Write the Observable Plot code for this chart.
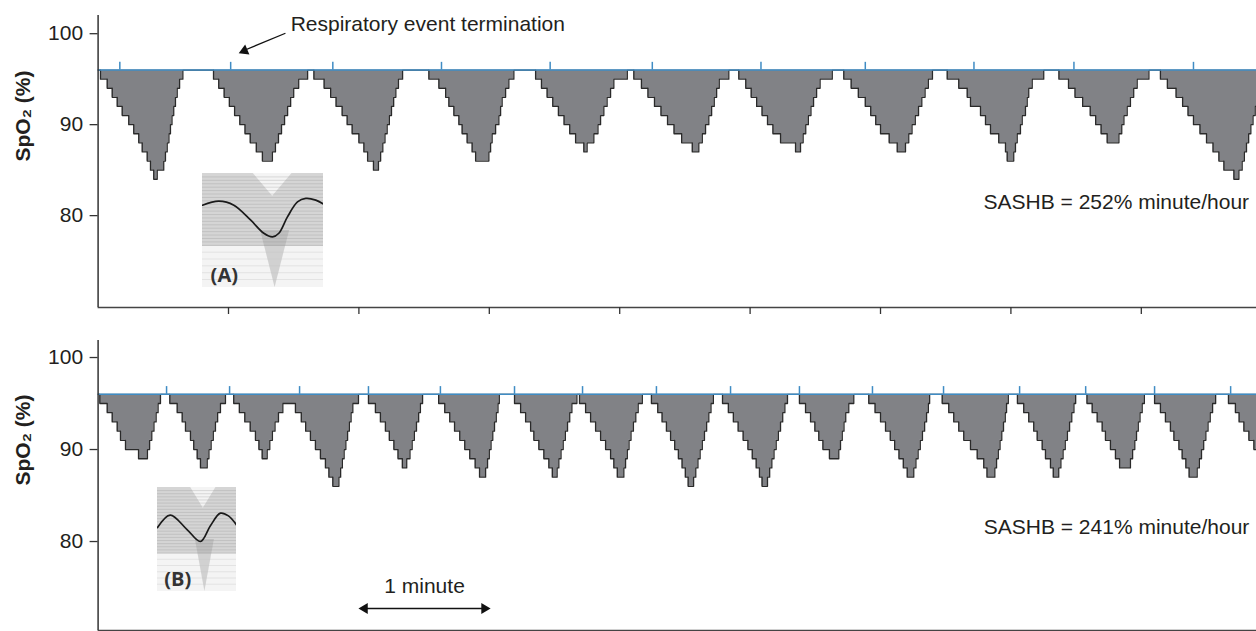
<!DOCTYPE html>
<html><head><meta charset="utf-8">
<script src="https://cdn.jsdelivr.net/npm/d3@7"></script>
<script src="https://cdn.jsdelivr.net/npm/@observablehq/plot@0.6"></script>
<style>
body{margin:0;background:#fff;}
#wrap{position:relative;width:1256px;height:631px;overflow:hidden;}
#wrap svg{display:block}
.inset{position:absolute}
</style></head><body><div id="wrap"></div>
<script>
// ---------- data (time in seconds, SpO2 in %) ----------
const minuteTicks = [60, 120, 180, 240, 300, 360, 420, 480];
const yTicks = [80, 90, 100];
const baselineSpO2 = 96;
const topEvents = [10, 61, 108, 158, 208, 255, 305, 353, 403, 449, 504];
const bottomEvents = [31.5, 60.5, 92.7, 124.4, 157.5, 191.6, 222.9, 256.9, 291, 322.7, 356.3, 389, 424, 454.4, 486.1, 521.1];

// each dip: "time:SpO2" vertices of the stepwise trace
const topDips = [
  "1.1:95 4.2:94 6.5:93 8.8:92 11.1:91 14.1:90 16.4:89 18.7:88 20.3:87 22.6:86 24.1:85 25.6:84 27.2:85 30.2:86 31:87 31.8:88 32.6:89 33.3:90 34:91 34.8:92 35.6:93 36.4:94 37.5:95 39:96",
  "53.1:95 55.5:94 58:93 60.4:92 62.8:91 65.2:90 67.6:89 70:88 72.8:87 75.6:86 80.2:87 81.6:88 83:89 84.4:90 85.8:91 87.2:92 88.6:93 90:94 92.3:95 96.4:96",
  "99.3:95 104:94 107:93 109.5:92 112.3:91 114.6:90 116.9:89 120:88 122.3:87 124:86 126.7:85 129:86 130:87 131:88 132:89 133:90 134:91 135:92 136:93 137:94 138.2:95 140.1:96",
  "152.2:95 156.8:94 159.9:93 161.4:92 163.7:91 166:90 167.5:89 169.8:88 172.1:87 173.7:86 179.8:87 180.6:88 181.3:89 182.9:90 184.4:91 185.2:92 185.9:93 187.5:94 189:95 191.3:96",
  "201.3:95 204:94 206.6:93 209.2:92 211.8:91 214.4:90 217:89 219.7:88 223.5:87 225:88 228.1:89 230:90 231.2:91 232.7:92 234.2:93 235.8:94 237.3:95 243.5:96",
  "246.5:95 250:94 253:93 256:92 259:91 262:90 265:89 268.5:88 273.4:87 276.4:88 278:89 279.5:90 281:91 282.3:92 283.5:93 284.6:94 285.8:95 290.2:96",
  "294.8:95 298:94 300.5:93 303:92 305.5:91 308:90 310.5:89 314:88 320.9:87 323.2:88 324.4:89 325.6:90 326.8:91 328:92 329.2:93 330.6:94 332.2:95 337.8:96",
  "343.1:95 346.5:94 349.8:93 353:92 355.5:91 357.8:90 360:89 364:88 367.7:87 371.5:88 373:89 374.5:90 376:91 377.5:92 379:93 380.5:94 382:95 383.9:96",
  "390.7:95 396:94 399.9:93 401.4:92 406:91 408.3:90 410.6:89 414.4:88 417.5:87 418.3:86 421.3:87 422.1:88 422.9:89 424.4:90 425.2:91 426.7:92 427.5:93 428.2:94 429.8:95 435.1:96",
  "442.1:95 446.5:94 449.5:93 453:92 456.5:91 459:90 461.5:89 464.3:88 469.7:89 471:90 472:91 473.5:92 475:93 476.5:94 478.1:95 483.5:96",
  "488.8:95 492:94 496:93 499:92 501.5:91 504:90 507:89 510:88 513:87 515.7:86 518:85 522.6:84 524.9:85 526.4:86 527.4:87 528.4:88 529.4:89 530.4:90 531.4:91 532.4:92 533.5:93 540:93"
];
const bottomDips = [
  "0.8:95 4.2:94 6.5:93 8.8:92 10.3:91 12.6:90 18.6:89 22.7:90 23.7:91 24.7:92 25.7:93 26.7:94 27.6:95 28.7:96",
  "33:95 36.4:94 38.7:93 40.2:92 42.5:91 44:90 45.6:89 47.1:88 50.2:89 51:90 52:91 53:92 54:93 55:94 56.3:95 58.6:96",
  "62.4:95 65:94 67.5:93 70:92 72.4:91 74:90 75.5:89 77.8:90 79:91 80.2:92 81.4:93 83:94 85:95 90.8:94 93.5:93 95.5:92 97.7:91 100:90 102.3:89 104.6:88 106.2:87 108:86 110.8:87 111.6:88 112.4:89 113.2:90 114:91 114.8:92 115.6:93 116.4:94 117.2:95 119.8:96",
  "124.4:95 127.6:94 129.9:93 132.2:92 134:91 136.1:90 138:89 140:88 142:89 143.5:90 144.5:91 145.5:92 146.5:93 147.5:94 148.3:95 149.3:96",
  "156.7:95 159.5:94 161.8:93 164:92 166.4:91 168.7:90 171:89 173.5:88 175.5:87 178.3:88 179.2:89 180:90 180.8:91 181.6:92 182.4:93 183.2:94 184:95 184.6:96",
  "191.6:95 194.4:94 196.7:93 199:92 200.5:91 202.8:90 205.1:89 207.4:88 209:87 211.2:88 212:89 213:90 214:91 215:92 216:93 217:94 218:95 220.3:96",
  "221.5:95 224.3:94 226.6:93 228.9:92 231.2:91 233.5:90 235.8:89 237.3:88 238.9:87 241.9:88 242.7:89 243.5:90 244.3:91 245.2:92 246.3:93 247.4:94 248.5:95 250.4:96",
  "254.6:95 257.5:94 259.5:93 261.5:92 263.4:91 265.3:90 267:89 268.7:88 270.2:87 271.5:86 274:87 275:88 276:89 277:90 278:91 279:92 280:93 281:94 282:95 283.1:96",
  "287.3:95 290:94 292.3:93 294.5:92 296.8:91 299:90 301:89 302.8:88 304.3:87 305.5:86 308:87 309:88 310:89 311:90 312:91 313:92 314:93 315:94 316:95 317.2:96",
  "322.7:95 325.5:94 327.8:93 329.8:92 331.6:91 333.5:90 336.5:89 340.8:90 341.6:91 342.4:92 343.2:93 344:94 345.4:95 347.7:96",
  "354.6:95 357.5:94 360:93 362.3:92 364.5:91 366.5:90 368.5:89 370.5:88 372.3:87 375.3:88 376.3:89 377.3:90 378.3:91 379.3:92 380.3:93 381.2:94 382:95 382.6:96",
  "388.4:95 391.4:94 393.7:93 396:92 398.3:91 401.4:90 404.5:89 407.5:88 409:87 412.6:88 413.4:89 414.2:90 415:91 415.8:92 416.6:93 417.4:94 418:95 418.8:96",
  "423:95 425.9:94 428.2:93 430.5:92 432.1:91 434.4:90 435.9:89 438.2:88 439.5:87 442:88 443:89 444:90 445:91 446:92 447:93 448:94 449:95 449.8:96",
  "455:95 457.4:94 459.7:93 462:92 463.5:91 465.8:90 468.1:89 470:88 475:89 476:90 477:91 477.8:92 478.6:93 479.4:94 480.4:95 481.4:96",
  "486.1:95 488.8:94 491.1:93 493.4:92 495:91 497.3:90 498.8:89 500.5:88 502:87 505.7:88 506.7:89 507.7:90 508.7:91 509.7:92 510.7:93 511.7:94 512.8:95 514.2:96",
  "520.1:95 523.3:94 525:93 527.2:92 529.5:91 531.8:90 540:90"
];

const yLabel = "SpO\u2082 (%)";
const sashbTop = "SASHB = 252% minute/hour";
const sashbBottom = "SASHB = 241% minute/hour";
const eventLabel = "Respiratory event termination";
const minuteLabel = "1 minute";

// inset ensemble-average curves (relative time 0..1, relative level 0..1)
const insetACurveX = [0, 0.135, 0.259, 0.399, 0.507, 0.579, 0.631, 0.702, 0.785, 0.854, 0.936, 1];
const insetACurveY = [0.722, 0.757, 0.722, 0.590, 0.476, 0.444, 0.476, 0.619, 0.751, 0.781, 0.766, 0.731];
const insetBCurveX = [0, 0.161, 0.374, 0.543, 0.67, 0.797, 0.898, 1];
const insetBCurveY = [0.615, 0.735, 0.596, 0.481, 0.633, 0.753, 0.727, 0.64];
const insetBands = [0.97, 0.94, 0.91, 0.88, 0.85, 0.82, 0.79, 0.76, 0.73, 0.70, 0.67, 0.64, 0.61, 0.58, 0.55, 0.52, 0.49, 0.46, 0.43, 0.40, 0.37];
const insetFaint = [0.31, 0.25, 0.19, 0.13, 0.07];

// ---------- helpers ----------
const FONT = "'Liberation Sans', Arial, Helvetica, sans-serif";
const BLUE = "#3f8cc4";
const GREY = "#818286";
const DARK = "#2a2a2a";

function parseTrace(dips) {
  const pts = [{t: 0, v: baselineSpO2}];
  for (const s of dips) {
    for (const tok of s.trim().split(/\s+/)) {
      const [t, v] = tok.split(":").map(Number);
      pts.push({t, v});
    }
  }
  return pts;
}

function panel(opts) {
  const {trace, events, height, marginTop, marginBottom, yDomain, sashb, xAxis, extra, tickLen} = opts;
  return Plot.plot({
    width: 1256, height, marginLeft: 97.6, marginRight: 0, marginTop, marginBottom,
    x: {domain: [0, 533], label: null, axis: null},
    y: {domain: yDomain, label: null, axis: null},
    style: {fontFamily: FONT, fontSize: "21px", color: "#231f20", background: "transparent", overflow: "visible"},
    marks: [
      Plot.areaY(trace, {x: "t", y1: baselineSpO2, y2: "v", curve: "step-after", fill: GREY, clip: true}),
      Plot.line(trace, {x: "t", y: "v", curve: "step-after", stroke: DARK, strokeWidth: 1.3, clip: true}),
      Plot.ruleY([baselineSpO2], {stroke: BLUE, strokeWidth: 1.5}),
      Plot.ruleX(events, {x: d => d, y1: baselineSpO2, y2: baselineSpO2 + tickLen, stroke: BLUE, strokeWidth: 1.5}),
      Plot.axisY({ticks: yTicks, tickSize: 8, tickPadding: 7, fontSize: 21, stroke: "#333", strokeWidth: 1.3}),
      Plot.ruleX([0], {stroke: "#333", strokeWidth: 1.5}),
      Plot.ruleY([yDomain[0]], {stroke: "#444", strokeWidth: 1.5}),
      xAxis ? Plot.axisX({ticks: minuteTicks, tickSize: 7, tickFormat: () => "", stroke: "#333", strokeWidth: 1.3}) : null,
      Plot.text([yLabel], {frameAnchor: "left", dx: -74.6, rotate: -90, fontWeight: "bold", fontSize: 21, fill: "#231f20"}),
      Plot.text([sashb], {x: () => sashb.pos[0], y: () => sashb.pos[1], text: () => sashb.text, textAnchor: "start", fontSize: 21, fill: "#231f20"}),
      ...(extra || [])
    ]
  });
}

function inset(curveX, curveY, label, w, h, labelPos) {
  const curve = curveX.map((x, i) => ({x, y: curveY[i]}));
  return Plot.plot({
    width: w, height: h, margin: 0,
    x: {domain: [0, 1], axis: null}, y: {domain: [0, 1], axis: null},
    style: {background: "#f4f4f4", overflow: "hidden"},
    marks: [
      // dense band of overlaid traces (lighter where the traces dip in the middle)
      Plot.areaY([{x: 0, lo: 0.36, hi: 1}, {x: 0.42, lo: 0.36, hi: 1}, {x: 0.58, lo: 0.36, hi: 0.8}, {x: 0.74, lo: 0.36, hi: 1}, {x: 1, lo: 0.36, hi: 1}],
        {x: "x", y1: "lo", y2: "hi", fill: "#cdcdcd", fillOpacity: 0.8}),
      // darker wedge where the desaturations overlap
      Plot.areaY([{x: 0.48, lo: 0.5, hi: 0.5}, {x: 0.6, lo: 0.0, hi: 0.5}, {x: 0.72, lo: 0.5, hi: 0.5}],
        {x: "x", y1: "lo", y2: "hi", fill: "#9d9d9d", fillOpacity: 0.4}),
      Plot.ruleY(insetBands, {stroke: "#8e8e8e", strokeWidth: 0.5, strokeOpacity: 0.55}),
      Plot.ruleY(insetFaint, {stroke: "#c2c2c2", strokeWidth: 0.5, strokeOpacity: 0.7}),
      Plot.line(curve, {x: "x", y: "y", curve: "catmull-rom", stroke: "#1a1a1a", strokeWidth: 1.7}),
      Plot.text([label], {x: () => labelPos[0], y: () => labelPos[1], text: () => label, fontFamily: "'Open Sans', 'Liberation Sans', sans-serif",
        fontWeight: "bold", fontSize: 20, fill: "#333", textAnchor: "middle"})
    ]
  });
}

// filled arrow heads: triangle symbols rotated toward the tip
function head(x, y, rotate, dx, dy) {
  return Plot.dot([0], {x: () => x, y: () => y, symbol: "triangle", r: 4, fill: "#111", stroke: "none", rotate, dx, dy});
}

// ---------- build ----------
const wrap = document.getElementById("wrap");
const topTrace = parseTrace(topDips);
const bottomTrace = parseTrace(bottomDips);

const topSvg = panel({
  trace: topTrace, events: topEvents, height: 320, marginTop: 15, marginBottom: 13,
  yDomain: [69.9, 102], xAxis: true, tickLen: 0.85,
  sashb: {text: sashbTop, pos: [407.4, 81.5]},
  extra: [
    Plot.link([{x1: 86.2, y1: 100.05, x2: 66.5, y2: 98.1}], {x1: "x1", y1: "y1", x2: "x2", y2: "y2", stroke: "#111", strokeWidth: 1.3}),
    head(64.7, 97.86, 247, 5.7, -2.4),
    Plot.text([eventLabel], {x: () => 88.6, y: () => 101.0, text: () => eventLabel, textAnchor: "start", fontSize: 21, fill: "#231f20"})
  ]
});
const bottomSvg = panel({
  trace: bottomTrace, events: bottomEvents, height: 311, marginTop: 20, marginBottom: 1,
  yDomain: [70.33, 101.85], xAxis: false, tickLen: 0.84,
  sashb: {text: sashbBottom, pos: [407.5, 81.56]},
  extra: [
    Plot.link([{x1: 122, x2: 178.4}], {x1: "x1", x2: "x2", y1: () => 72.72, y2: () => 72.72, stroke: "#111", strokeWidth: 1.3}),
    head(119.8, 72.72, 270, 6.2, 0),
    head(180.6, 72.72, 90, -6.2, 0),
    Plot.text([minuteLabel], {x: () => 150.2, y: () => 75.17, text: () => minuteLabel, textAnchor: "middle", fontSize: 21, fill: "#231f20"})
  ]
});
wrap.appendChild(topSvg);
wrap.appendChild(bottomSvg);

const iA = inset(insetACurveX, insetACurveY, "(A)", 121, 114, [0.18, 0.108]);
iA.classList.add("inset"); iA.style.left = "202px"; iA.style.top = "173px";
wrap.appendChild(iA);
const iB = inset(insetBCurveX, insetBCurveY, "(B)", 79, 104, [0.257, 0.113]);
iB.classList.add("inset"); iB.style.left = "157px"; iB.style.top = "487px";
wrap.appendChild(iB);
</script></body></html>
